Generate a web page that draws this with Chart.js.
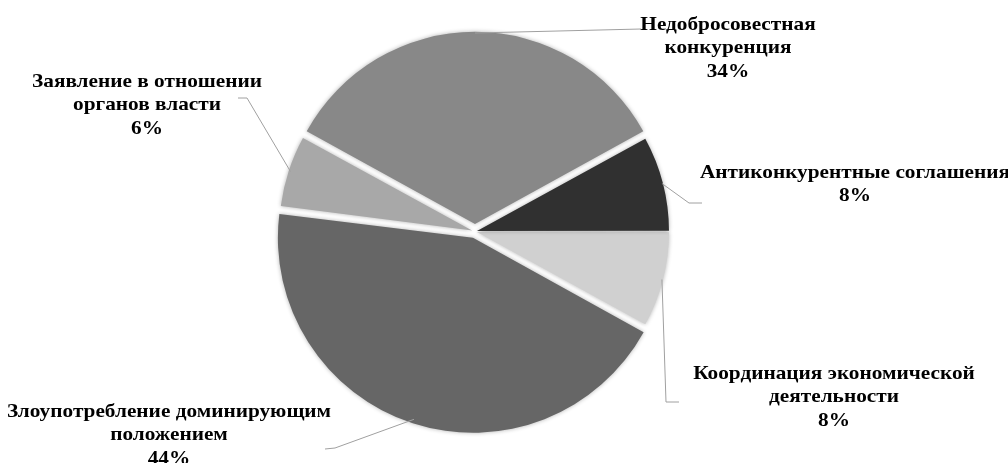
<!DOCTYPE html>
<html>
<head>
<meta charset="utf-8">
<script src="https://cdn.jsdelivr.net/npm/chart.js@4.4.1/dist/chart.umd.min.js"></script>
<style>
  html, body { margin: 0; padding: 0; background: #fff; }
  #wrap { width: 1008px; height: 463px; }
</style>
</head>
<body>
<div id="wrap"><canvas id="pieChart"></canvas></div>
<script>
"use strict";

// Данные диаграммы (по часовой стрелке от 3 часов)
const categories = [
    ["Координация экономической", "деятельности"],
    ["Злоупотребление доминирующим", "положением"],
    ["Заявление в отношении", "органов власти"],
    ["Недобросовестная", "конкуренция"],
    ["Антиконкурентные соглашения"]
];
const shares = [8, 44, 6, 34, 8];

// Оформление
const sliceColors = ["#d0d0d0", "#666666", "#a8a8a8", "#888888", "#303030"];
const sliceOffsets = [8, 26, 12, 30, 8];

// Расположение подписей: центр текста, верхняя строка, и изломы выносных линий
const labelSpots = [
    { x: 834, y: 374, path: [[666, 402], [679, 402]] },
    { x: 169, y: 412, path: [[335, 448], [325, 449]] },
    { x: 147, y: 82, path: [[247, 98], [238, 98]] },
    { x: 728, y: 25, path: [[641, 29]] },
    { x: 855, y: 173, path: [[689, 203], [702, 203]] }
];
const lineStep = 23.5;
const textStretch = 1.12;

const shadowPlugin = {
    id: "shadow",
    beforeDatasetsDraw(chart) {
        const ctx = chart.ctx;
        ctx.save();
        ctx.shadowColor = "rgba(0,0,0,0.3)";
        ctx.shadowBlur = 4;
    },
    afterDatasetsDraw(chart) {
        chart.ctx.restore();
    }
};

const labelPlugin = {
    id: "labels",
    afterDraw(chart) {
        const ctx = chart.ctx;
        const meta = chart.getDatasetMeta(0);
        ctx.save();
        meta.data.forEach((arc, i) => {
            const spot = labelSpots[i];
            const mid = (arc.startAngle + arc.endAngle) / 2;
            const shift = sliceOffsets[i] / 4;
            const r = arc.outerRadius + shift;
            const sx = arc.x + Math.cos(mid) * r;
            const sy = arc.y + Math.sin(mid) * r;

            ctx.strokeStyle = "#a0a0a0";
            ctx.lineWidth = 1;
            ctx.beginPath();
            ctx.moveTo(sx, sy);
            spot.path.forEach(p => ctx.lineTo(p[0], p[1]));
            ctx.stroke();

            const lines = categories[i].concat([shares[i] + "%"]);
            ctx.save();
            ctx.translate(spot.x, spot.y);
            ctx.scale(textStretch, 1);
            ctx.fillStyle = "#000";
            ctx.font = "bold 19px 'Liberation Serif', 'Times New Roman', serif";
            ctx.textAlign = "center";
            ctx.textBaseline = "middle";
            lines.forEach((t, k) => ctx.fillText(t, 0, k * lineStep));
            ctx.restore();
        });
        ctx.restore();
    }
};

new Chart("pieChart", {
    type: "pie",
    data: {
        labels: categories,
        datasets: [{
            data: shares,
            backgroundColor: sliceColors,
            borderWidth: 0,
            offset: sliceOffsets
        }]
    },
    options: {
        responsive: true,
        maintainAspectRatio: false,
        animation: false,
        rotation: 90,
        radius: 191,
        layout: { padding: { left: 0, right: 58, top: 0, bottom: 0 } },
        plugins: {
            legend: { display: false },
            tooltip: { enabled: false },
            title: { display: false }
        }
    },
    plugins: [shadowPlugin, labelPlugin]
});
</script>
</body>
</html>
